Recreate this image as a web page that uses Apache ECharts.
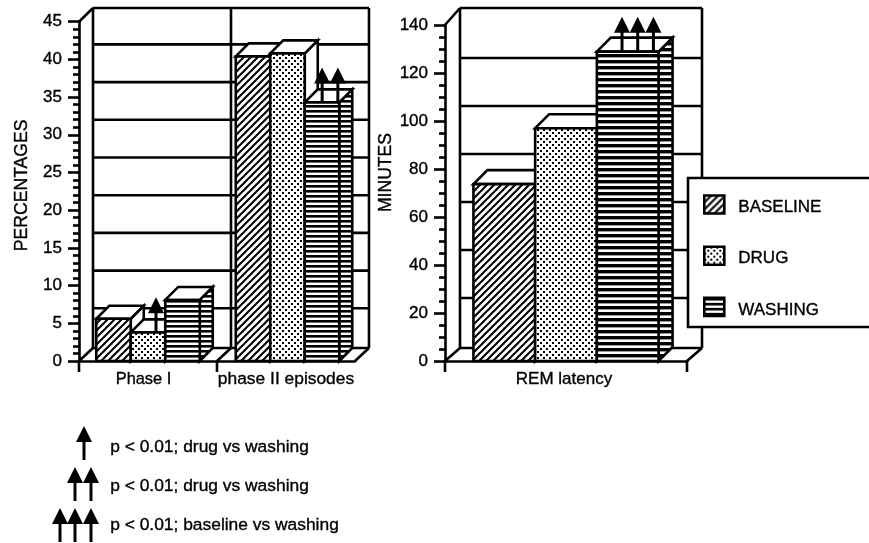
<!DOCTYPE html>
<html><head><meta charset="utf-8">
<style>html,body{margin:0;padding:0;background:#fff}#c{width:869px;height:543px}</style>
<script src="https://cdn.jsdelivr.net/npm/echarts@6/dist/echarts.min.js"></script>
</head><body><div id="c"></div>
<script>
const seriesNames = ['BASELINE', 'DRUG', 'WASHING'];
const leftCategories = ['Phase I', 'phase II episodes'];
const leftBaseline = [5.6, 40.4];
const leftDrug = [3.8, 40.8];
const leftWashing = [8.1, 34.3];
const leftGridValues = [5, 10, 15, 20, 25, 30, 35, 40];
const leftArrows = [[0, 3.8, 1, 1], [1, 34.3, 2, 2]];
const rightCategories = ['REM latency'];
const rightBaseline = [73.7];
const rightDrug = [97];
const rightWashing = [128.9];
const rightGridValues = [20, 40, 60, 80, 100, 120];
const rightArrows = [[0, 128.9, 2, 3]];
const keyTexts = ['p < 0.01; drug vs washing', 'p < 0.01; drug vs washing', 'p < 0.01; baseline vs washing'];
const keyCounts = [1, 2, 3];

const INK = '#000', LW = 2.6, FONT = '"Liberation Sans", Arial, sans-serif';
const BOLDISH = { textBorderColor: '#000', textBorderWidth: 0.35 };

function tile(w, h, draw) {
  const c = document.createElement('canvas'); c.width = w; c.height = h;
  const g = c.getContext('2d'); g.fillStyle = '#fff'; g.fillRect(0, 0, w, h); g.fillStyle = '#000'; g.strokeStyle = '#000';
  draw(g); return { image: c, repeat: 'repeat' };
}
const hatch = tile(7, 7, g => {
  g.lineWidth = 2;
  [[-7, 7, 7, -7], [0, 7, 7, 0], [0, 14, 14, 0]].forEach(l => { g.beginPath(); g.moveTo(l[0], l[1]); g.lineTo(l[2], l[3]); g.stroke(); });
});
const dots = tile(6, 6, g => { g.fillRect(0, 0, 2, 2); g.fillRect(3, 3, 2, 2); });
const stripesL = tile(4, 5, g => { g.fillRect(0, 0, 4, 2.6); });
const stripesR = tile(4, 6, g => { g.fillRect(0, 0, 4, 3.4); });

function wallsRender(cfg, gridValues) {
  return function (params, api) {
    const s = params.coordSys, L = s.x, R = s.x + s.width, B = s.y + s.height, T = s.y;
    const dx = cfg.dx, top = cfg.wallTop, floor = cfg.floor;
    const ln = (x1, y1, x2, y2, w) => ({ type: 'line', shape: { x1, y1, x2, y2 }, style: { stroke: INK, lineWidth: w || LW } });
    const kids = [];
    gridValues.forEach(v => { const y = api.coord([0, v])[1] - cfg.gridDy; kids.push(ln(L + dx, y, R + dx, y)); });
    kids.push(ln(L + dx, top, R + dx, top), ln(L + dx, top, L + dx, floor), ln(R + dx, top, R + dx, floor), ln(L + dx, floor, R + dx, floor));
    kids.push(ln(L, T, L + dx, top), ln(L, B, L + dx, floor), ln(R, B, R + dx, floor));
    const band = api.size([1, 0])[0];
    const n = Math.round(s.width / band);
    for (let i = 0; i < n; i++) {
      const x = L + i * band;
      kids.push(ln(x, B, x, B + 11));
      if (i > 0) kids.push(ln(x + dx, top, x + dx, floor), ln(x, B, x + dx, floor));
    }
    if (cfg.endTick) kids.push(ln(R, B, R, B + 11));
    return { type: 'group', children: kids };
  };
}
function barsRender(cfg, pos, fill, patternedSide) {
  return function (params, api) {
    const c = api.value(0), v = api.value(1);
    const b = api.coord([c, 0]), t = api.coord([c, v]), band = api.size([1, 0])[0];
    const w = band * cfg.barFrac, x = b[0] + (pos - 1.5) * w + (cfg.nudge[c] || 0), y = t[1], d = cfg.depth;
    const st = f => ({ fill: f, stroke: INK, lineWidth: LW, lineJoin: 'miter' });
    return { type: 'group', children: [
      { type: 'polygon', shape: { points: [[x + w, y], [x + w + d, y - d], [x + w + d, b[1] - d], [x + w, b[1]]] }, style: st(patternedSide ? fill : '#fff') },
      { type: 'polygon', shape: { points: [[x, y], [x + w, y], [x + w + d, y - d], [x + d, y - d]] }, style: st('#fff') },
      { type: 'rect', shape: { x, y, width: w, height: b[1] - y }, style: st(fill) }
    ] };
  };
}
function arrowShape(x, base, tip, headH) {
  return [
    { type: 'line', shape: { x1: x, y1: tip + headH - 1, x2: x, y2: base }, style: { stroke: INK, lineWidth: 3 } },
    { type: 'polygon', shape: { points: [[x, tip], [x + 8, tip + headH], [x - 8, tip + headH]] }, style: { fill: INK } }
  ];
}
function arrowsRender(cfg) {
  return function (params, api) {
    const c = api.value(0), v = api.value(1), pos = api.value(2), n = api.value(3);
    const b = api.coord([c, 0]), t = api.coord([c, v]), band = api.size([1, 0])[0];
    const w = band * cfg.barFrac, cx = b[0] + (pos - 1) * w + (cfg.nudge[c] || 0) + cfg.arrowShift;
    let kids = [];
    for (let i = 0; i < n; i++) kids = kids.concat(arrowShape(cx + (i - (n - 1) / 2) * 15.7, t[1], t[1] - 35, 16));
    return { type: 'group', children: kids };
  };
}
const leftCfg = { dx: 14, gridDy: 15, wallTop: 8, floor: 348, depth: 13, barFrac: 0.25, nudge: [0, 1.5], arrowShift: 8, endTick: false };
const rightCfg = { dx: 15, gridDy: 15, wallTop: 8, floor: 348, depth: 14, barFrac: 0.255, nudge: [0], arrowShift: 10, endTick: true };

function axisY(gridIndex, max, interval, minorSplit, name, nameGap, shift) {
  return {
    gridIndex, type: 'value', min: 0, max, interval,
    name, nameLocation: 'middle', nameGap, nameRotate: 90,
    nameTextStyle: Object.assign({ fontFamily: FONT, fontSize: 17.6, color: INK, padding: [0, 0, 0, shift] }, BOLDISH),
    axisLine: { show: true, lineStyle: { color: INK, width: LW } },
    axisTick: { show: true, length: 11, lineStyle: { color: INK, width: LW } },
    minorTick: { show: true, splitNumber: minorSplit, length: 6, lineStyle: { color: INK, width: LW } },
    splitLine: { show: false }, minorSplitLine: { show: false },
    axisLabel: Object.assign({ fontFamily: FONT, fontSize: 17, color: INK, margin: 17 }, BOLDISH)
  };
}
function axisX(gridIndex, data, size) {
  return {
    gridIndex, type: 'category', data,
    axisLine: { show: true, onZero: false, lineStyle: { color: INK, width: LW } },
    axisTick: { show: false }, splitLine: { show: false },
    axisLabel: Object.assign({ fontFamily: FONT, fontSize: size, color: INK, margin: 10, interval: 0 }, BOLDISH)
  };
}
function pairs(a) { return a.map((v, i) => [i, v]); }
function chartSeries(idx, cfg, cats, gv, vals, arrows, stripes) {
  const fills = [hatch, dots, stripes];
  const out = [{ type: 'custom', silent: true, xAxisIndex: idx, yAxisIndex: idx, z: 2, data: [[0, 0]], encode: { x: 0, y: 1 }, renderItem: wallsRender(cfg, gv), clip: false, tooltip: { show: false } }];
  seriesNames.forEach((nm, i) => out.push({
    type: 'custom', name: nm, xAxisIndex: idx, yAxisIndex: idx, z: 3, data: pairs(vals[i]), encode: { x: 0, y: 1 },
    itemStyle: { color: fills[i] }, renderItem: barsRender(cfg, i, fills[i], i === 2), clip: false
  }));
  out.push({ type: 'custom', silent: true, xAxisIndex: idx, yAxisIndex: idx, z: 4, data: arrows, encode: { x: 0, y: 1 }, renderItem: arrowsRender(cfg), clip: false });
  return out;
}

const keyGraphics = [];
const keyTextY = [447, 486, 525], keyBase = [460, 501, 542], keyTip = [426, 467, 508];
const keyX = [[84], [75, 91], [60, 75, 91]];
keyTexts.forEach((t, i) => {
  keyGraphics.push({ type: 'text', left: 110, top: keyTextY[i] - 8, style: { text: t, fontFamily: FONT, fontSize: 17.4, fill: INK, stroke: INK, lineWidth: 0.35 } });
  for (let k = 0; k < keyCounts[i]; k++) arrowShape(keyX[i][k], keyBase[i], keyTip[i], 16).forEach(e => keyGraphics.push(e));
});

const chart = echarts.init(document.getElementById('c'), null, { renderer: 'canvas' });
const xLeftData = [
  { value: leftCategories[0], textStyle: { padding: [0, 9, 0, 0], fontSize: 16.4 } },
  { value: leftCategories[1], textStyle: { fontSize: 17.4 } }
];
const xRightData = [{ value: rightCategories[0], textStyle: { padding: [0, 4, 0, 0], fontSize: 17 } }];
chart.setOption({
  animation: false, backgroundColor: '#fff',
  grid: [
    { left: 79, top: 21.7, width: 276, height: 339.3, containLabel: false },
    { left: 445, top: 25, width: 242, height: 336, containLabel: false }
  ],
  xAxis: [axisX(0, xLeftData, 16.4), axisX(1, xRightData, 17)],
  yAxis: [axisY(0, 45, 5, 5, 'PERCENTAGES', 48, 12), axisY(1, 140, 20, 4, 'MINUTES', 45, 41)],
  legend: {
    orient: 'vertical', left: 698, top: 188, itemWidth: 20, itemHeight: 18, itemGap: 28, z: 8, selectedMode: false,
    formatter: n => '{a|' + n + '}',
    textStyle: {
      rich: { a: Object.assign({ fontFamily: FONT, fontSize: 17, color: INK, padding: [6, 0, 0, 9], lineHeight: 20 }, BOLDISH) }
    },
    data: [hatch, dots, stripesL].map((f, i) => ({ name: seriesNames[i], icon: 'rect', itemStyle: { color: f, borderColor: INK, borderWidth: 2.6 } }))
  },
  graphic: { elements: [
    { type: 'rect', z: 6, shape: { x: 688, y: 178, width: 200, height: 149 }, style: { fill: '#fff', stroke: INK, lineWidth: 2.6 } }
  ].concat(keyGraphics) },
  series: chartSeries(0, leftCfg, leftCategories, leftGridValues, [leftBaseline, leftDrug, leftWashing], leftArrows, stripesL)
    .concat(chartSeries(1, rightCfg, rightCategories, rightGridValues, [rightBaseline, rightDrug, rightWashing], rightArrows, stripesR))
});
</script></body></html>
